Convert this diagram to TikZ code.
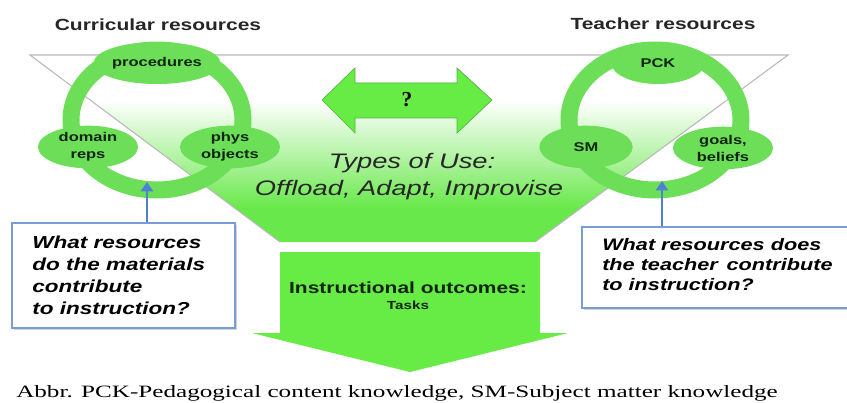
\documentclass[tikz,border=0pt]{standalone}
\usepackage{fontspec}
\setmainfont{Liberation Serif}
\newfontfamily\ssw[FakeStretch=1.3]{Liberation Sans}
\newfontfamily\capserif[FakeStretch=1.45]{Liberation Serif}
\usetikzlibrary{arrows.meta,shadows,shapes.geometric}
\definecolor{ringgreen}{RGB}{108,222,88}
\definecolor{fgreen}{RGB}{104,232,74}
\definecolor{agreen}{RGB}{102,236,68}
\definecolor{boxblue}{RGB}{120,156,214}
\definecolor{arrblue}{RGB}{78,128,212}
\definecolor{txtdark}{RGB}{16,36,16}
\pgfdeclareverticalshading{funnelshade}{100bp}{color(0bp)=(fgreen); color(34bp)=(fgreen); color(48bp)=(fgreen!50!white); color(63bp)=(white); color(100bp)=(white)}
\begin{document}
\begin{tikzpicture}[x=0.75pt,y=-0.75pt,
  ell/.style={ellipse, fill=ringgreen, inner sep=0pt, align=center, text=txtdark,
    font=\ssw\bfseries\fontsize{9.5}{12.75}\selectfont},
  ringline/.style={draw=ringgreen, line width=12.75pt},
  qbox/.style={draw=boxblue, line width=1.3pt, fill=white,
    drop shadow={shadow xshift=1.5pt,shadow yshift=-1.5pt,opacity=.35,fill=black!50}},
  qtext/.style={anchor=north west, inner sep=0pt, align=left, text=black,
    font=\ssw\bfseries\itshape\fontsize{13}{16.3}\selectfont},
  barrow/.style={draw=arrblue, line width=2.2pt, -{Triangle[length=7pt,width=9pt]}},
  heading/.style={font=\ssw\bfseries\fontsize{12.1}{14}\selectfont, text=black!85},
  usetext/.style={font=\ssw\itshape\fontsize{15.75}{18}\selectfont, text=black!85}
]
\useasboundingbox (0,0) rectangle (847,403);
\fill[white] (0,0) rectangle (847,403);
% funnel
\path[shading=funnelshade] (30,55) -- (788,55) -- (535,242) -- (280,242) -- cycle;
\draw[gray!55, line width=0.8pt] (280,242) -- (30,55) -- (788,55) -- (535,242);
% headings
\node[heading] (hcur) at (158,25) {Curricular resources};
\node[heading] (htea) at (663,24) {Teacher resources};
% rings
\draw[ringline] (157,120) ellipse [x radius=86, y radius=70];
\draw[ringline] (655,120) ellipse [x radius=86, y radius=70];
% ellipse nodes
\node[ell, minimum width=72pt, minimum height=31.5pt] (proc) at (157,63) {procedures};
\node[ell, minimum width=75pt, minimum height=32pt] (dom) at (88,147) {domain\\reps};
\node[ell, minimum width=75pt, minimum height=32pt] (phys) at (230,147) {phys\\objects};
\node[ell, minimum width=70pt, minimum height=31.5pt] (pck) at (658,63) {PCK};
\node[ell, minimum width=70pt, minimum height=32pt] (sm) at (586,147) {SM};
\node[ell, minimum width=75pt, minimum height=32pt] (goals) at (723,148) {goals,\\beliefs};
% double arrow
\filldraw[fill=agreen, draw=ringgreen!80!black, line width=0.5pt]
  (322,100) -- (355,68) -- (355,83) -- (457,83) -- (457,68) -- (492,100)
  -- (457,133) -- (457,118) -- (355,118) -- (355,133) -- cycle;
\node[font=\bfseries\fontsize{16}{18}\selectfont] (q) at (407,100) {?};
% types of use
\node[usetext] (types) at (412,163) {Types of Use:};
\node[usetext] (modes) at (409,190) {Offload, Adapt, Improvise};
% question boxes
\node[qbox, minimum width=167.25pt, minimum height=78.75pt, inner sep=0pt] (lbox) at (123.5,275.5) {};
\node[qtext] (ltext) at (32,236) {What resources\\do the materials\\contribute\\to instruction?};
\node[qbox, minimum width=201pt, minimum height=60.75pt, inner sep=0pt] (rbox) at (716,267.5) {};
\node[qtext, font=\ssw\bfseries\itshape\fontsize{12.5}{15}\selectfont] (rtext) at (602,238) {What resources does\\the teacher\, contribute\\to instruction?};
% blue arrows
\coordinate (lring) at (147,182);
\coordinate (rring) at (662,181);
\draw[barrow] (lbox.north -| lring) -- (lring);
\draw[barrow] (rbox.north -| rring) -- (rring);
% outcome arrow
\fill[agreen] (280,252) -- (540,252) -- (540,333) -- (568,333) -- (410,372)
  -- (252,333) -- (280,333) -- cycle;
\node[font=\ssw\bfseries\fontsize{12.1}{14}\selectfont, text=txtdark] (outc) at (408,288) {Instructional outcomes:};
\node[font=\ssw\bfseries\fontsize{8.8}{10}\selectfont, text=txtdark] (tasks) at (408,305) {Tasks};
% caption
\node[anchor=base west, inner sep=0pt, font=\capserif\fontsize{13}{15}\selectfont] (cap) at (16,397) {Abbr. PCK-Pedagogical content knowledge, SM-Subject matter knowledge};
\end{tikzpicture}
\end{document}
